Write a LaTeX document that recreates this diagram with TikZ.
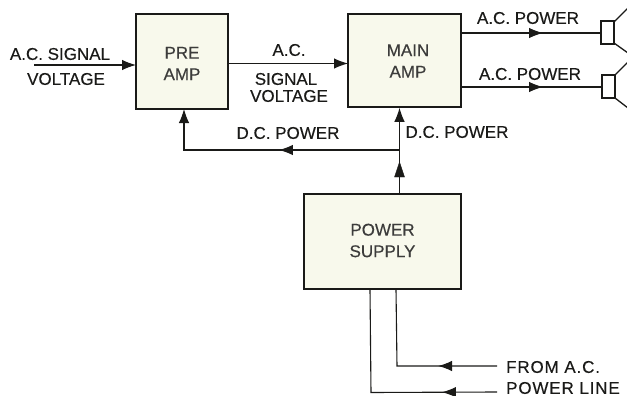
\documentclass[tikz,border=0pt]{standalone}
\usepackage{fontspec}
\setmainfont{Liberation Sans}
\newfontfamily\heavy[RawFeature={embolden=0.35}]{Liberation Sans}
\usetikzlibrary{arrows.meta,decorations.markings}
\definecolor{boxfill}{RGB}{248,249,236}
\definecolor{ink}{RGB}{26,26,24}
\tikzset{
  tip/.tip={Latex[length=14pt,width=10.5pt]},
  blockbox/.style={draw=ink,line width=1.5pt,fill=boxfill,inner sep=0pt},
  boxtext/.style={inner sep=0pt,align=center,font=\fontsize{17}{21.5}\heavy,text=ink!85},
  lab/.style={font=\fontsize{17}{20}\heavy,text=ink,inner sep=0pt,anchor=center},
  wire/.style={draw=ink,line width=1.1pt},
  midtip/.style={postaction={decorate,decoration={markings,mark=at position #1 with {\arrow{tip}}}}},
  spk/.style={draw=ink,line width=1.3pt,fill=white}
}
\begin{document}
\begin{tikzpicture}[x=1pt,y=-1pt]
\useasboundingbox (0,0) rectangle (627,396);
\node[blockbox,minimum width=92pt,minimum height=95pt] (pre) at (182,61.5) {};
\node[boxtext] (pretext) at (182,63.5) {PRE\\AMP};
\node[blockbox,minimum width=113pt,minimum height=93pt] (main) at (404.5,60.5) {};
\node[boxtext] (maintext) at (408,61) {MAIN\\AMP};
\node[blockbox,minimum width=157pt,minimum height=95pt] (psu) at (382.5,241.5) {};
\node[boxtext] (psutext) at (382.5,240.5) {POWER\\SUPPLY};
% speakers
\coordinate (s1) at (601,33);
\coordinate (s2) at (601,87);
\draw[spk] (614,22) -- (628,8) (614,43) -- (628,53);
\draw[spk] (601,21) rectangle (614,44);
\draw[spk] (615,75) -- (628,62) (615,98) -- (628,108);
\draw[spk] (602,75) rectangle (615,98);
% input
\coordinate (in) at (34,65);
\draw[wire,-tip] (in) -- (136,65);
\node[lab] (l1) at (60,54) {A.C. SIGNAL};
\node[lab] (l2) at (66,79) {VOLTAGE};
% pre to main
\draw[wire,-tip] (228,63.5) -- (348,63.5);
\node[lab] (l3) at (289,50) {A.C.};
\node[lab] (l4) at (286,79) {SIGNAL};
\node[lab] (l5) at (289,96) {VOLTAGE};
% outputs
\draw[wire,midtip=0.586] (461,33) -- (s1);
\draw[wire,midtip=0.586] (461,87) -- (s2);
\node[lab] (l6) at (528,18) {A.C. POWER};
\node[lab] (l7) at (530,74) {A.C. POWER};
% DC
\coordinate (j) at (399.5,150);
\draw[wire,-tip] (psu.north -| j) -- (main.south -| j);
\draw[wire,midtip=0.47,-tip] (j) -- (184,150) -- (184,109);
\draw[ink,fill=ink] (394.5,177) -- (404.5,177) -- (399.5,162) -- cycle;
\node[lab] (l8) at (288,133) {D.C. POWER};
\node[lab] (l9) at (457,132) {D.C. POWER};
% mains
\node[lab,anchor=west] (fa) at (506,367) {\addfontfeature{LetterSpace=5}FROM A.C.};
\node[lab,anchor=west] (pl) at (506,388) {\addfontfeature{LetterSpace=5}POWER LINE};
\draw[wire,midtip=0.333] (497,366) -- (397,366) -- (396,289);
\draw[wire,midtip=0.24] (497,392) -- (371,392.5) -- (370,289);
\end{tikzpicture}
\end{document}
